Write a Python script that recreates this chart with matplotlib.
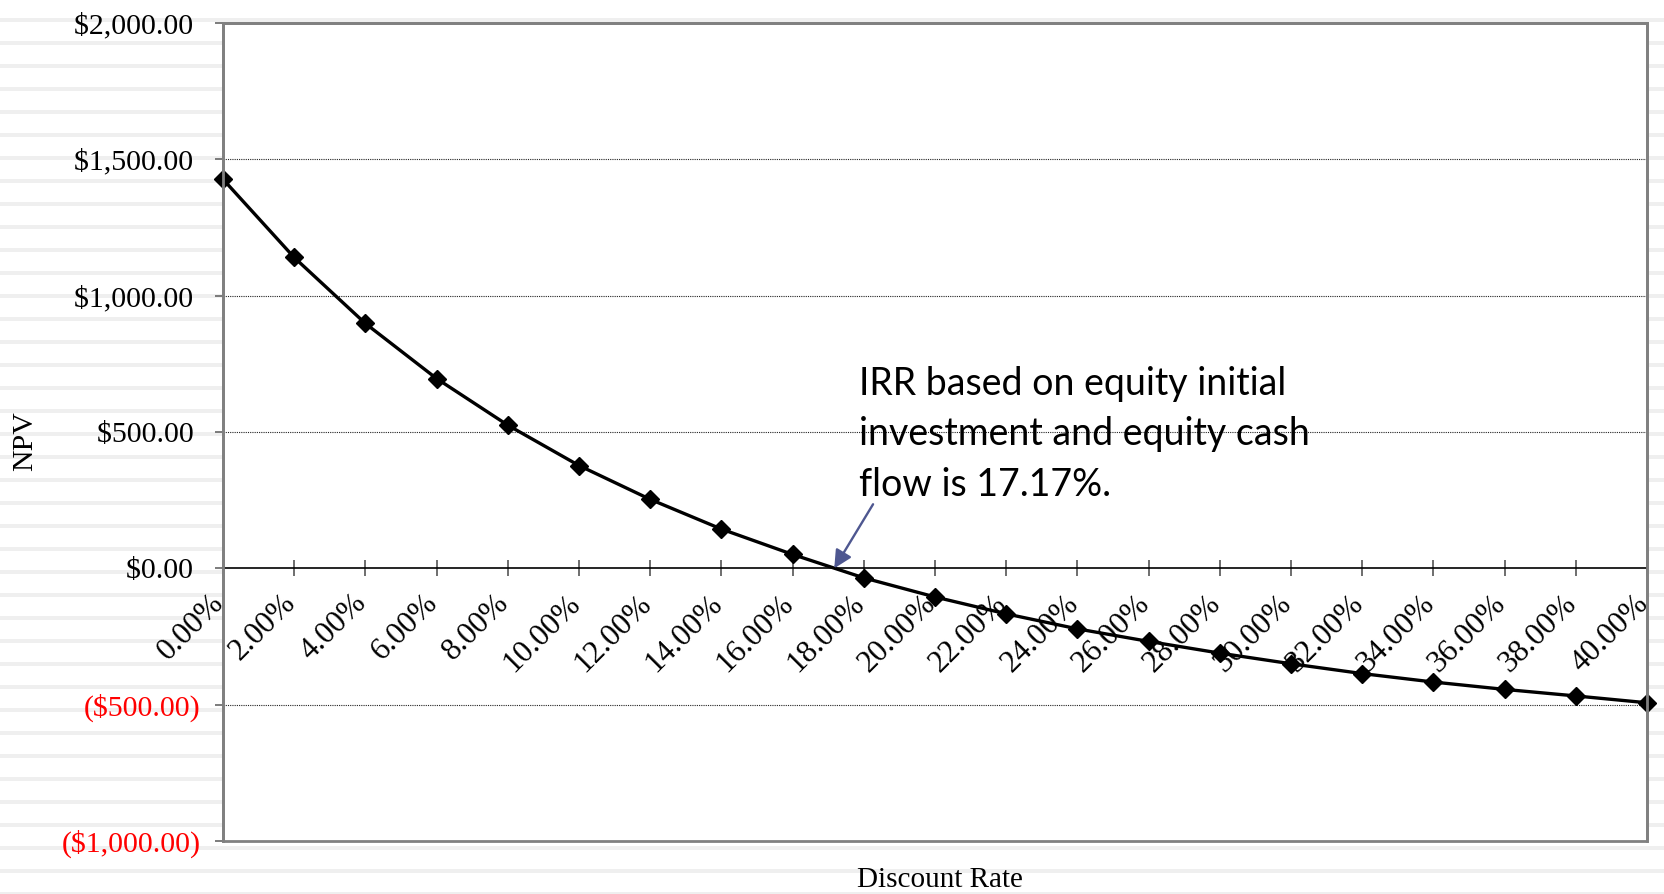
import matplotlib
matplotlib.use("Agg")
import matplotlib.pyplot as plt
import numpy as np
from matplotlib.patches import Rectangle
from matplotlib.transforms import ScaledTranslation

# NPV profile: discount rate (%) vs. net present value ($)
rates = [0, 2, 4, 6, 8, 10, 12, 14, 16, 18, 20, 22, 24, 26, 28, 30, 32, 34, 36, 38, 40]
npv = [1427, 1140, 898, 696, 525, 377, 253, 144, 51, -35, -105, -167,
       -222, -268, -311, -350, -386, -417, -444, -468, -493]
irr = 17.17
y_ticks = [-1000, -500, 0, 500, 1000, 1500, 2000]
grid_levels = [-500, 500, 1000, 1500]
note = "IRR based on equity initial\ninvestment and equity cash\nflow is 17.17%."

plt.rcParams["font.family"] = ["Liberation Serif", "DejaVu Serif"]

W, H, DPI = 1665, 894, 100
fig = plt.figure(figsize=(W / DPI, H / DPI), dpi=DPI)
fig.patch.set_facecolor("white")

# faint horizontal banding behind the chart
bg = fig.add_axes([0, 0, 1, 1], zorder=0)
bg.set_xlim(0, W)
bg.set_ylim(H, 0)
bg.axis("off")
for yc in np.arange(19.7, H + 5, 23.0):
    bg.axhspan(yc - 2.0, yc + 2.0, color="#efefef", lw=0)

L, R, T, B = 223, 1647, 23, 841
ax = fig.add_axes([L / W, 1 - B / H, (R - L) / W, (B - T) / H], zorder=1)
ax.set_facecolor("white")
ax.set_xlim(0, 40)
ax.set_ylim(-1000, 2000)

for g in grid_levels:
    ax.axhline(g, color="#222222", lw=0.8, ls=(0, (1, 1)), zorder=1)

ax.plot(rates, npv, color="black", lw=2.4, marker="D", ms=9.5,
        clip_on=False, zorder=5)

# y axis: currency labels, negatives in red parentheses
def money(v):
    if v < 0:
        return "(${:,.2f})".format(-v)
    return "${:,.2f} ".format(v)

ax.set_yticks(y_ticks)
ax.set_yticklabels([money(v) for v in y_ticks])
for lab, v in zip(ax.get_yticklabels(), y_ticks):
    lab.set_color("red" if v < 0 else "black")
ax.tick_params(axis="y", direction="out", length=6, width=1.2,
               color="#666666", pad=10, labelsize=21.5)

# x axis runs along NPV = 0
ax.spines["bottom"].set_position(("data", 0))
ax.spines["bottom"].set_color("black")
ax.spines["bottom"].set_linewidth(1.2)
ax.set_xticks(rates)
ax.set_xticklabels(["{:.2f}%".format(r) for r in rates])
ax.tick_params(axis="x", direction="inout", length=11.5, width=1.2,
               color="#555555", pad=9, labelsize=22.5)
shift = ScaledTranslation(7 / DPI, 0, fig.dpi_scale_trans)
for lab in ax.get_xticklabels():
    lab.set_rotation(45)
    lab.set_ha("right")
    lab.set_va("top")
    lab.set_transform(lab.get_transform() + shift)

for side in ("top", "left", "right"):
    ax.spines[side].set_color("#808080")
    ax.spines[side].set_linewidth(2)
ax.add_patch(Rectangle((0, 0), 1, 1, transform=ax.transAxes, fill=False,
                       edgecolor="#808080", lw=2, clip_on=False, zorder=6))

fig.text(25.5 / W, 1 - 441 / H, "NPV", rotation=90, ha="center",
         va="center", fontsize=21.5)
fig.text(940 / W, 1 - 880 / H, "Discount Rate", ha="center", va="center",
         fontsize=21)

# IRR call-out
ax.annotate("", xy=(irr, 0), xytext=(18.26, 235),
            arrowprops=dict(arrowstyle="-|>", color="#4e5790", lw=1.7,
                            mutation_scale=27, shrinkA=0, shrinkB=0),
            zorder=7)
fig.text(859 / W, 1 - 366 / H, note, ha="left", va="top",
         fontsize=27, family=["Lato", "DejaVu Sans"], linespacing=1.5,
         zorder=8)

fig.savefig("out.png", dpi=DPI, facecolor="white")
